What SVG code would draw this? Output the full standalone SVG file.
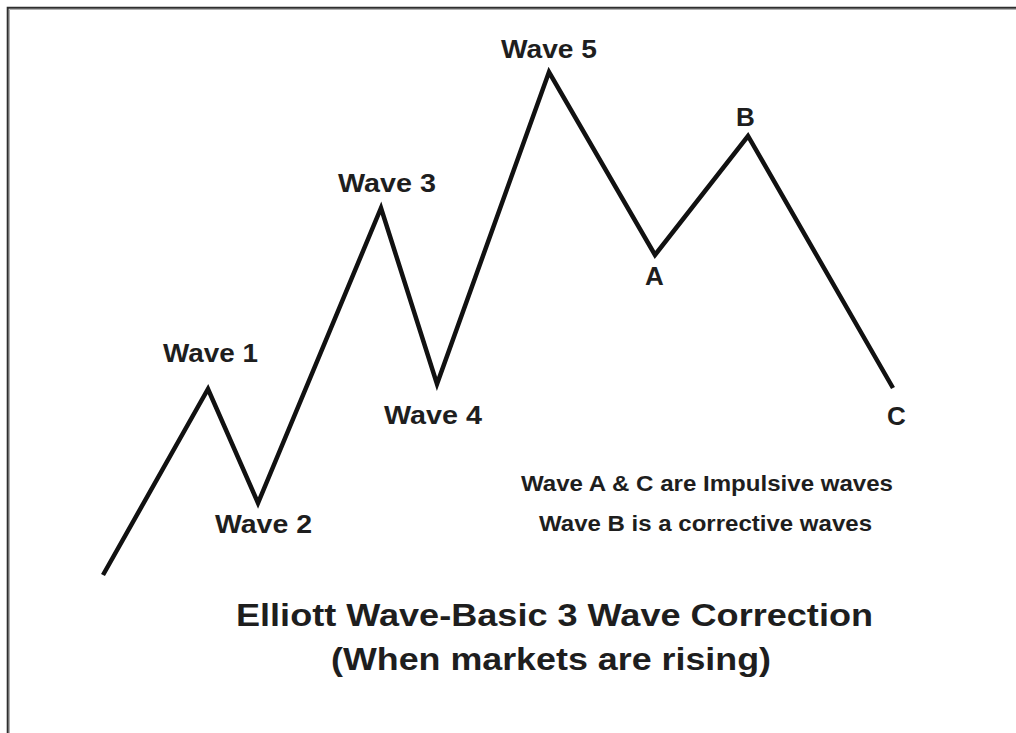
<svg xmlns="http://www.w3.org/2000/svg" width="1016" height="733" viewBox="0 0 1016 733">
  <style>
    .lbl { font-family: "Liberation Sans", Arial, sans-serif; font-weight: bold; fill: #1e1e1e; }
    .w { font-size: 26px; }
    .s { font-size: 22.5px; }
    .t { font-size: 31.5px; }
    .wave { fill: none; stroke: #111; stroke-width: 4.5; stroke-linejoin: miter; stroke-miterlimit: 10; stroke-linecap: butt; }
  </style>
  <rect x="0" y="0" width="1016" height="733" fill="#ffffff"/>
  <g id="frame">
    <path d="M7.7 733 V7.7 H1016" fill="none" stroke="#2e2e2e" stroke-width="2"/>
    <path d="M9.5 733 V9.5 H1016" fill="none" stroke="#b0b0b0" stroke-width="1"/>
  </g>
  <g id="connectors">
    <polyline class="wave" points="103,575 208,389 258,503 381,208 437,384 549,72 655,255 748,136 893,388"/>
  </g>
  <g id="wave1"><text class="lbl w" x="163" y="362" textLength="95" lengthAdjust="spacingAndGlyphs">Wave 1</text></g>
  <g id="wave2"><text class="lbl w" x="215" y="533" textLength="97" lengthAdjust="spacingAndGlyphs">Wave 2</text></g>
  <g id="wave3"><text class="lbl w" x="338" y="192" textLength="98" lengthAdjust="spacingAndGlyphs">Wave 3</text></g>
  <g id="wave4"><text class="lbl w" x="384" y="424" textLength="98" lengthAdjust="spacingAndGlyphs">Wave 4</text></g>
  <g id="wave5"><text class="lbl w" x="501" y="58" textLength="96" lengthAdjust="spacingAndGlyphs">Wave 5</text></g>
  <g id="waveA"><text class="lbl w" x="645" y="285">A</text></g>
  <g id="waveB"><text class="lbl w" x="736" y="126">B</text></g>
  <g id="waveC"><text class="lbl w" x="887" y="425">C</text></g>
  <g id="note">
    <text class="lbl s" x="521" y="491" textLength="372" lengthAdjust="spacingAndGlyphs">Wave A &amp; C are Impulsive waves</text>
    <text class="lbl s" x="539" y="531" textLength="333" lengthAdjust="spacingAndGlyphs">Wave B is a corrective waves</text>
  </g>
  <g id="title">
    <text class="lbl t" x="236" y="626" textLength="637" lengthAdjust="spacingAndGlyphs">Elliott Wave-Basic 3 Wave Correction</text>
    <text class="lbl t" x="331" y="670" textLength="440" lengthAdjust="spacingAndGlyphs">(When markets are rising)</text>
  </g>
</svg>
